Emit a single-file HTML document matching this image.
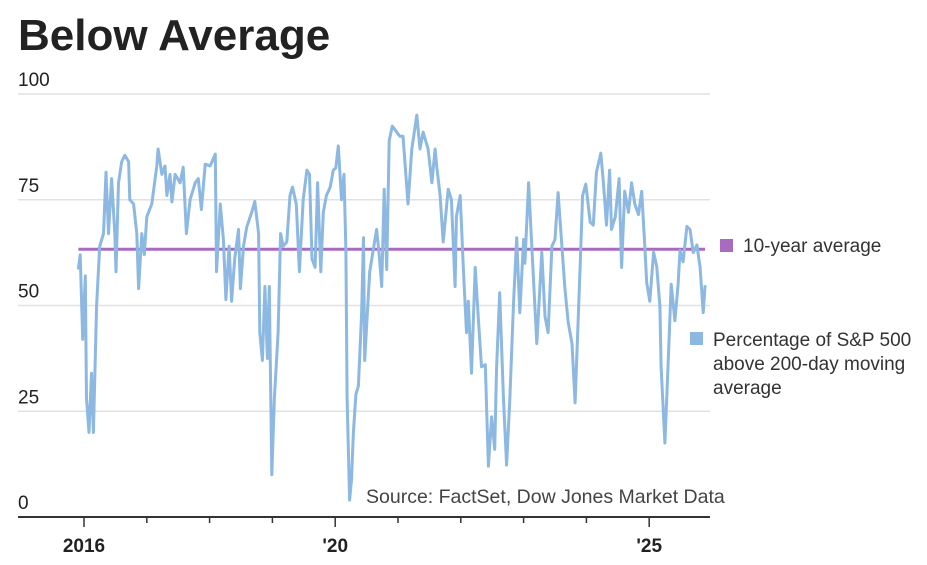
<!DOCTYPE html>
<html><head><meta charset="utf-8"><style>
body{margin:0;background:#fff;width:927px;height:560px;overflow:hidden;font-family:"Liberation Sans",sans-serif;}
</style></head><body>
<svg id="chart" width="927" height="560" xmlns="http://www.w3.org/2000/svg" font-family="Liberation Sans, sans-serif">
<text x="18" y="50" font-size="44" font-weight="bold" fill="#222">Below Average</text>
<g id="grid"></g>
<g id="series"></g>
<text x="366" y="503" font-size="19.5" fill="#444">Source: FactSet, Dow Jones Market Data</text>
<g>
<rect x="720" y="239" width="13" height="13" fill="#a86bbf"/>
<text x="743" y="252" font-size="19" fill="#333">10-year average</text>
<rect x="690" y="332" width="13" height="13" fill="#8cb8e2"/>
<text font-size="19" fill="#333"><tspan x="713" y="346">Percentage of S&amp;P 500</tspan><tspan x="713" y="370">above 200-day moving</tspan><tspan x="713" y="394">average</tspan></text>
</g>
</svg>
<script>
const dates=[2015.91,2015.94,2015.98,2016.02,2016.04,2016.08,2016.12,2016.15,2016.20,2016.25,2016.31,2016.35,2016.39,2016.44,2016.49,2016.51,2016.55,2016.60,2016.65,2016.71,2016.73,2016.79,2016.84,2016.87,2016.92,2016.96,2017.00,2017.08,2017.16,2017.18,2017.24,2017.29,2017.32,2017.37,2017.40,2017.45,2017.53,2017.58,2017.63,2017.69,2017.77,2017.82,2017.87,2017.93,2018.01,2018.09,2018.11,2018.17,2018.22,2018.26,2018.31,2018.35,2018.40,2018.46,2018.49,2018.54,2018.59,2018.67,2018.72,2018.78,2018.80,2018.84,2018.88,2018.92,2018.95,2018.99,2019.03,2019.09,2019.13,2019.17,2019.23,2019.28,2019.32,2019.38,2019.43,2019.49,2019.55,2019.59,2019.63,2019.68,2019.72,2019.77,2019.81,2019.86,2019.92,2019.97,2020.01,2020.05,2020.10,2020.14,2020.17,2020.19,2020.23,2020.26,2020.29,2020.33,2020.37,2020.42,2020.45,2020.47,2020.50,2020.55,2020.61,2020.66,2020.70,2020.74,2020.78,2020.82,2020.86,2020.91,2020.98,2021.03,2021.08,2021.11,2021.16,2021.22,2021.30,2021.35,2021.40,2021.48,2021.54,2021.59,2021.62,2021.67,2021.72,2021.80,2021.85,2021.91,2021.93,2021.99,2022.04,2022.09,2022.12,2022.17,2022.23,2022.28,2022.33,2022.39,2022.44,2022.49,2022.54,2022.57,2022.62,2022.68,2022.73,2022.78,2022.84,2022.89,2022.94,2023.00,2023.02,2023.08,2023.13,2023.21,2023.29,2023.34,2023.39,2023.45,2023.50,2023.55,2023.61,2023.66,2023.71,2023.77,2023.82,2023.90,2023.94,2023.99,2024.06,2024.11,2024.16,2024.23,2024.27,2024.32,2024.37,2024.40,2024.46,2024.52,2024.56,2024.61,2024.67,2024.72,2024.77,2024.83,2024.88,2024.93,2024.96,2025.01,2025.07,2025.12,2025.17,2025.19,2025.25,2025.30,2025.35,2025.41,2025.46,2025.49,2025.54,2025.60,2025.65,2025.70,2025.76,2025.81,2025.86,2025.89];
const values=[58.5,62,42,57,28,20,34,20,50,64,67,81.5,67,80,67,58,79,84,85.5,84,75,74,67,54,67,62,71,74,83,87,81,83,76,81,74.5,81,79,82.7,67,75,79,80,72.7,83.4,83,85.8,58,74,65.6,51.4,64,51,61,68,54,64,68.5,72,74.6,67,43.6,37,54.5,37.5,54.5,10,27.7,43.6,67,64,65,76,78,74,58,75,82,81,61,59,79,58,72,76,78,82,82.5,87.7,75,81,63,28,4,8.8,20,29,31,48,66,37,45,58,63.5,68,62,54.5,77.5,58.5,89,92.4,91,90,90,84,74,87,95,87,91,87,79,87,82.5,76,65,77.5,75,54.5,71,76,59,43.6,51,34,59,46.7,35.5,36,12,23.7,16,35.5,53,27.7,12.3,27.7,51,66,48.3,65.6,60,79,64,41,62.6,47.4,43.6,64,65.6,76.7,64,53.8,46,41,27,59,76,78.7,69.7,69,81.5,86,79,69,82,68,71,80,59,77,72,79,74,71.5,77,64,55.4,51,62.6,59.3,49.8,35.5,17.5,35.5,55,46.4,55,63,60.3,68.7,68,62.5,64.3,59,48.3,54.8];
const average=[63.3];
const yTicks=[0,25,50,75,100];
const xTickYears=[2016,2017,2018,2019,2020,2021,2022,2023,2024,2025];
const xLabels=["2016","","","","'20","","","","","'25"];

const NS="http://www.w3.org/2000/svg";
const X0=18,X1=710;
function xs(t){return 84+(t-2016)*62.8;}
function ys(v){return 517-v*4.23;}
function mk(tag,attrs,parent){const e=document.createElementNS(NS,tag);for(const k in attrs)e.setAttribute(k,attrs[k]);parent.appendChild(e);return e;}
const grid=document.getElementById('grid');
yTicks.forEach(v=>{
  if(v>0){const g=mk('line',{x1:X0,x2:X1,y1:ys(v),y2:ys(v),stroke:'#e2e2e2','stroke-width':1.5},grid);
  
  }
  const t=mk('text',{x:X0,y:ys(v)-8,'font-size':19,fill:'#222'},grid);
  t.textContent=String(v);
  
  
});
const ax=mk('line',{x1:X0,x2:X1,y1:ys(0),y2:ys(0),stroke:'#333','stroke-width':2},grid);


xTickYears.forEach((yr,i)=>{
  const lab=xLabels[i];
  const tk=mk('line',{x1:xs(yr),x2:xs(yr),y1:ys(0),y2:ys(0)+(lab?10:6),stroke:'#333','stroke-width':1.5},grid);
  
  
  if(lab){const t=mk('text',{x:xs(yr),y:552,'font-size':19,'font-weight':'bold','text-anchor':'middle',fill:'#222'},grid);
  t.textContent=lab;
  
  }
});
const s=document.getElementById('series');
const avg=mk('line',{x1:xs(dates[0]),x2:xs(dates[dates.length-1]),y1:ys(average[0]),y2:ys(average[0]),stroke:'#a86bbf','stroke-width':3},s);


const pts=dates.map((d,i)=>xs(d).toFixed(1)+','+ys(values[i]).toFixed(1)).join(' ');
const pl=mk('polyline',{points:pts,fill:'none',stroke:'#8cb8e2','stroke-width':3,'stroke-linejoin':'round'},s);


</script>
</body></html>
